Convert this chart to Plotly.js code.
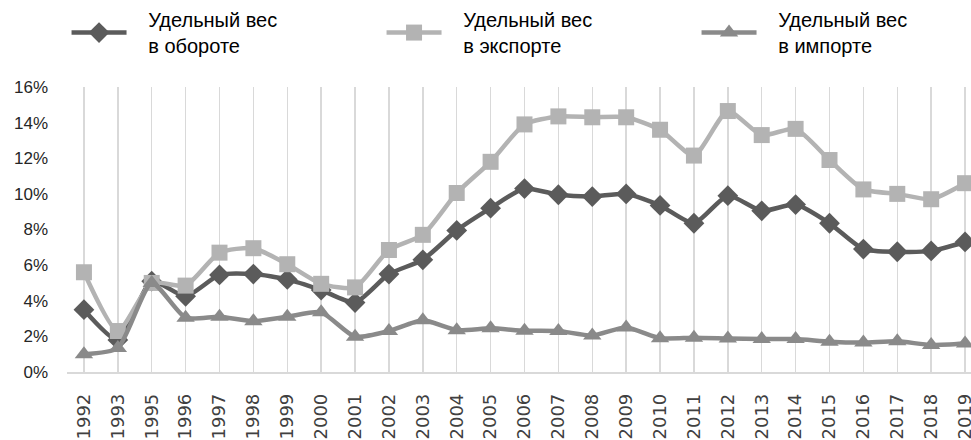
<!DOCTYPE html>
<html>
<head>
<meta charset="utf-8">
<script src="https://cdn.plot.ly/plotly-3.0.1.min.js"></script>
<style>html,body{margin:0;padding:0;overflow:hidden;background:#fff;width:971px;height:440px;}#chart{width:1040px;height:440px;}</style>
</head>
<body>
<div id="chart"></div>
<script>
const years = ["1992","1993","1995","1996","1997","1998","1999","2000","2001","2002","2003","2004","2005","2006","2007","2008","2009","2010","2011","2012","2013","2014","2015","2016","2017","2018","2019"];
const turnover = [3.5,1.8,5.1,4.25,5.45,5.5,5.2,4.6,3.9,5.5,6.3,7.95,9.2,10.3,9.95,9.85,10.0,9.35,8.35,9.9,9.05,9.4,8.35,6.9,6.75,6.8,7.3];
const exportShare = [5.6,2.3,5.0,4.85,6.7,6.95,6.05,4.95,4.75,6.85,7.7,10.05,11.8,13.9,14.35,14.3,14.3,13.6,12.15,14.65,13.3,13.65,11.9,10.25,10.0,9.7,10.6];
const importShare = [1.0,1.35,5.0,3.05,3.1,2.85,3.1,3.35,1.98,2.3,2.9,2.35,2.45,2.32,2.3,2.05,2.5,1.9,1.92,1.88,1.85,1.85,1.7,1.65,1.72,1.52,1.6];
const names = ["Удельный вес<br>в обороте","Удельный вес<br>в экспорте","Удельный вес<br>в импорте"];
const yTicks = [0,2,4,6,8,10,12,14,16];

const pad = '\u00a0\u00a0\u00a0';
const idx = years.map((_, i) => i);
function tr(y, name, color, symbol, size) {
  return {
    x: idx, y: y, name: name.split('<br>').map(s => pad + s).join('<br>'),
    type: 'scatter', mode: 'lines+markers',
    line: {color: color, width: 4.5, shape: 'spline', smoothing: 0.6},
    marker: {color: color, symbol: symbol, size: size},
    cliponaxis: true
  };
}
const data = [
  tr(turnover, names[0], '#5b5b5b', 'diamond', 16),
  tr(exportShare, names[1], '#b3b3b3', 'square', 16),
  tr(importShare, names[2], '#8a8a8a', 'triangle-up', 16)
];
const layout = {
  width: 1040, height: 440,
  margin: {l: 67, r: 58, t: 87, b: 68, autoexpand: false},
  paper_bgcolor: '#fff', plot_bgcolor: '#fff',
  showlegend: true,
  legend: {
    orientation: 'h', x: -0.0005, xanchor: 'left',
    y: 1.305, yanchor: 'top',
    bgcolor: 'rgba(0,0,0,0)',
    font: {family: 'Liberation Sans, Arial, sans-serif', size: 20, color: '#000'},
    itemwidth: 55, entrywidth: 245, traceorder: 'normal', valign: 'middle'
  },
  xaxis: {
    type: 'linear', range: [-0.5, 26.5],
    tickmode: 'array', tickvals: idx, ticktext: years,
    tickangle: -90, tickson: 'boundaries',
    showgrid: true, gridcolor: '#d9d9d9', gridwidth: 1.5,
    showline: true, linecolor: '#d9d9d9', linewidth: 1.5,
    zeroline: false, ticks: '',
    ticklabelstandoff: 13,
    tickfont: {family: 'DejaVu Sans, sans-serif', size: 18, color: '#404040'},
    automargin: false
  },
  yaxis: {
    range: [0, 16], tickmode: 'array', tickvals: yTicks,
    ticktext: yTicks.map(v => v + '%'),
    showgrid: false, zeroline: false, showline: false, ticks: '',
    ticklabelstandoff: 18,
    tickfont: {family: 'Liberation Sans, Arial, sans-serif', size: 17, color: '#262626'},
    automargin: false
  }
};
Plotly.newPlot('chart', data, layout, {displayModeBar: false, staticPlot: true});
</script>
</body>
</html>
